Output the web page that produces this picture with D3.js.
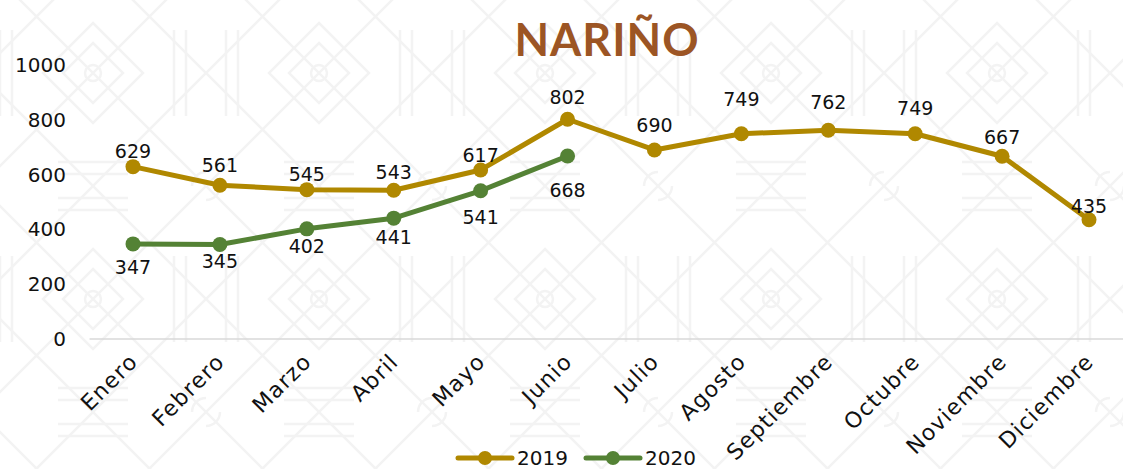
<!DOCTYPE html>
<html>
<head>
<meta charset="utf-8">
<script src="https://cdn.jsdelivr.net/npm/d3@7"></script>
<style>
  body { margin: 0; background: #fff; }
  svg { display: block; font-family: "DejaVu Sans", "Noto Sans", sans-serif; }
</style>
</head>
<body>
<svg id="chart" width="1123" height="469"></svg>
<script>
// data
const months = ["Enero", "Febrero", "Marzo", "Abril", "Mayo", "Junio",
                "Julio", "Agosto", "Septiembre", "Octubre", "Noviembre", "Diciembre"];
const values2019 = [629, 561, 545, 543, 617, 802, 690, 749, 762, 749, 667, 435];
const values2020 = [347, 345, 402, 441, 541, 668];
const yTicks = [0, 200, 400, 600, 800, 1000];

// label nudges (the original labels were moved by hand)
const labelDy2019 = [-15, -20, -15, -18, -15, -22, -25, -34, -28, -25, -19, -13];
const labelDy2020 = [23, 17, 17, 19, 27, 34];

const gold = "#b08800", green = "#548235";

const W = 1123, H = 469;
const svg = d3.select("#chart");

//----------------------------------------------------------------------------------
// faint background motif

const defs = svg.append("defs");
const pat = defs.append("pattern")
    .attr("id", "motif")
    .attr("patternUnits", "userSpaceOnUse")
    .attr("x", -20).attr("y", -40)
    .attr("width", 226).attr("height", 226);
const pg = pat.append("g")
    .attr("fill", "none")
    .attr("stroke", "#f3f3f3")
    .attr("stroke-width", 2.5);
// diagonals
pg.append("path").attr("d", "M0,0 L226,226 M226,0 L0,226 M0,113 L113,0 L226,113 L113,226 Z");
// nested diamond in the middle
pg.append("path").attr("d", "M113,63 L163,113 L113,163 L63,113 Z M113,83 L143,113 L113,143 L83,113 Z");
// vertical stripe blocks
pg.append("path").attr("d", "M20,70 V156 M32,70 V156 M194,70 V156 M206,70 V156");
// horizontal stripes
pg.append("path").attr("d", "M78,12 H148 M78,24 H148 M78,202 H148 M78,214 H148");
// little spirals
pg.append("circle").attr("cx", 113).attr("cy", 113).attr("r", 8);
pg.append("circle").attr("cx", 0).attr("cy", 0).attr("r", 14);
pg.append("circle").attr("cx", 226).attr("cy", 226).attr("r", 14);

svg.append("rect").attr("width", W).attr("height", H).attr("fill", "url(#motif)");

//----------------------------------------------------------------------------------
// scales

const x = d3.scalePoint().domain(months).range([133, 1089]);
const y = d3.scaleLinear().domain([0, 1000]).range([339, 65]);

// title
svg.append("text")
    .attr("x", 607).attr("y", 56)
    .attr("text-anchor", "middle")
    .attr("font-family", "Lato, sans-serif")
    .attr("font-size", 45)
    .attr("font-weight", 700)
    .attr("letter-spacing", 1)
    .attr("fill", "#9c5524")
    .text("NARIÑO");

// y axis
const yAxis = svg.append("g")
    .attr("transform", "translate(90,0)")
    .call(d3.axisLeft(y).tickValues(yTicks).tickFormat(d3.format("d")).tickSize(0).tickPadding(24));
yAxis.select(".domain").remove();
yAxis.selectAll("text")
    .attr("font-family", "DejaVu Sans, sans-serif")
    .attr("font-size", 20)
    .attr("fill", "#111");

// baseline
svg.append("line")
    .attr("x1", x(months[0]) - x.step() / 2)
    .attr("x2", x(months[months.length - 1]) + x.step() / 2)
    .attr("y1", y(0)).attr("y2", y(0))
    .attr("stroke", "#d9d9d9")
    .attr("stroke-width", 1.5);

// month labels
svg.append("g").selectAll("text")
    .data(months)
    .join("text")
    .attr("transform", d => `translate(${x(d) + 6},${y(0) + 24}) rotate(-45)`)
    .attr("text-anchor", "end")
    .attr("font-size", 22)
    .attr("letter-spacing", 1.2)
    .attr("fill", "#111")
    .text(d => d);

//----------------------------------------------------------------------------------
// series

function drawSeries(values, color, dys) {
    const pts = values.map((v, i) => ({ m: months[i], v: v, dy: dys[i] }));
    const line = d3.line().x(d => x(d.m)).y(d => y(d.v));

    svg.append("path")
        .datum(pts)
        .attr("d", line)
        .attr("fill", "none")
        .attr("stroke", color)
        .attr("stroke-width", 5)
        .attr("stroke-linejoin", "round");

    svg.append("g").selectAll("circle")
        .data(pts)
        .join("circle")
        .attr("cx", d => x(d.m))
        .attr("cy", d => y(d.v))
        .attr("r", 7.5)
        .attr("fill", color);

    svg.append("g").selectAll("text")
        .data(pts)
        .join("text")
        .attr("x", d => x(d.m))
        .attr("y", d => y(d.v) + d.dy)
        .attr("dy", "0.35em")
        .attr("text-anchor", "middle")
        .attr("font-size", 19)
        .attr("fill", "#111")
        .text(d => d.v);
}

drawSeries(values2019, gold, labelDy2019);
drawSeries(values2020, green, labelDy2020);

//----------------------------------------------------------------------------------
// legend

const legend = [{ name: "2019", color: gold, x: 458 }, { name: "2020", color: green, x: 586 }];
const lg = svg.append("g").selectAll("g")
    .data(legend)
    .join("g")
    .attr("transform", d => `translate(${d.x},458)`);
lg.append("line")
    .attr("x1", 0).attr("x2", 54)
    .attr("stroke", d => d.color)
    .attr("stroke-width", 5)
    .attr("stroke-linecap", "round");
lg.append("circle")
    .attr("cx", 27).attr("r", 7)
    .attr("fill", d => d.color);
lg.append("text")
    .attr("x", 59).attr("dy", "0.35em")
    .attr("font-size", 20)
    .attr("fill", "#111")
    .text(d => d.name);
</script>
</body>
</html>
